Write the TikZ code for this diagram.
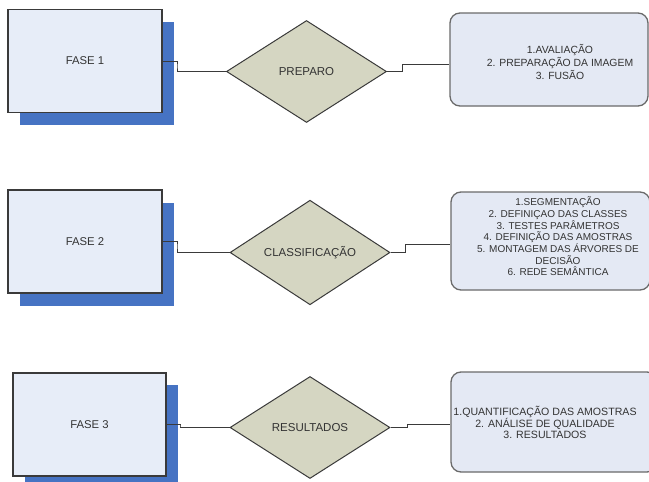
\documentclass[tikz,border=0pt]{standalone}
\usepackage{fontspec}
\setmainfont{Liberation Sans}
\usetikzlibrary{shapes.geometric}
\definecolor{boxblue}{HTML}{E7EDF8}
\definecolor{shadowblue}{HTML}{4673C3}
\definecolor{khaki}{HTML}{D5D6C2}
\definecolor{infoblue}{HTML}{E4E9F4}
\definecolor{linegray}{HTML}{3A3A3A}
\definecolor{boxgray}{HTML}{6A6A6A}
\definecolor{txt}{HTML}{333333}
\begin{document}
\begin{tikzpicture}[x=1pt,y=-1pt,
  phase/.style={rectangle, draw=linegray, line width=1.1pt, fill=boxblue,
    minimum width=154pt, minimum height=103pt, inner sep=0pt,
    font=\fontsize{11.3}{13}\selectfont, text=txt},
  shadowbox/.style={fill=shadowblue},
  choice/.style={diamond, draw=linegray, line width=1pt, fill=khaki,
    minimum width=160pt, minimum height=102pt, inner sep=0pt,
    font=\fontsize{11.5}{13}\selectfont, text=txt},
  infobox/.style={rectangle, rounded corners=10pt, draw=boxgray, line width=1.3pt,
    fill=infoblue, inner sep=0pt},
  infotext/.style={align=center, inner sep=0pt, text=txt},
  conn/.style={draw=linegray, line width=1pt}]
\useasboundingbox (0,0) rectangle (649,482);

% shadows of the phase boxes
\fill[shadowbox] (20,22) rectangle (174,125);
\fill[shadowbox] (20,202.5) rectangle (174,305.5);
\fill[shadowbox] (25,385) rectangle (178,488);

% row 1
\node[phase] (F1) at (85,61) {FASE 1};
\node[choice] (D1) at (306.5,71.5) {PREPARO};
\node[infobox, minimum width=198pt, minimum height=93pt] (R1) at (549,59.5) {};
\node[infotext, font=\fontsize{10.4}{13}\selectfont] (T1) at (560,62)
  {1.AVALIAÇÃO\\2. PREPARAÇÃO DA IMAGEM\\3. FUSÃO};
\coordinate (k1) at (177,66);
\coordinate (m1) at (402,64);
\draw[conn] (F1.east) -| (k1) |- (D1.west);
\draw[conn] (D1.east) -| (m1) -- (m1 -| R1.west);

% row 2
\node[phase] (F2) at (85,241.5) {FASE 2};
\node[choice] (D2) at (310,252.5) {CLASSIFICAÇÃO};
\node[infobox, minimum width=199pt, minimum height=98pt] (R2) at (550.5,241) {};
\node[infotext, font=\fontsize{10}{11.7}\selectfont] (T2) at (558,236.5)
  {1.SEGMENTAÇÃO\\2. DEFINIÇAO DAS CLASSES\\3. TESTES PARÂMETROS\\4. DEFINIÇÃO DAS AMOSTRAS\\5. MONTAGEM DAS ÁRVORES DE\\DECISÃO\\6. REDE SEMÂNTICA};
\coordinate (k2) at (177,246);
\coordinate (m2) at (405,244);
\draw[conn] (F2.east) -| (k2) |- (D2.west);
\draw[conn] (D2.east) -| (m2) -- (m2 -| R2.west);

% row 3
\node[phase, minimum width=153pt] (F3) at (89.5,424.5) {FASE 3};
\node[choice] (D3) at (310,427.5) {RESULTADOS};
\node[infobox, minimum width=206pt, minimum height=100pt] (R3) at (554,422) {};
\node[infotext, font=\fontsize{10.6}{11.7}\selectfont] (T3) at (545,422.5)
  {1.QUANTIFICAÇÃO DAS AMOSTRAS\\2. ANÁLISE DE QUALIDADE\\3. RESULTADOS};
\coordinate (k3) at (180,426);
\coordinate (m3) at (407,424);
\draw[conn] (F3.east) -| (k3) |- (D3.west);
\draw[conn] (D3.east) -| (m3) -- (m3 -| R3.west);
\end{tikzpicture}
\end{document}
